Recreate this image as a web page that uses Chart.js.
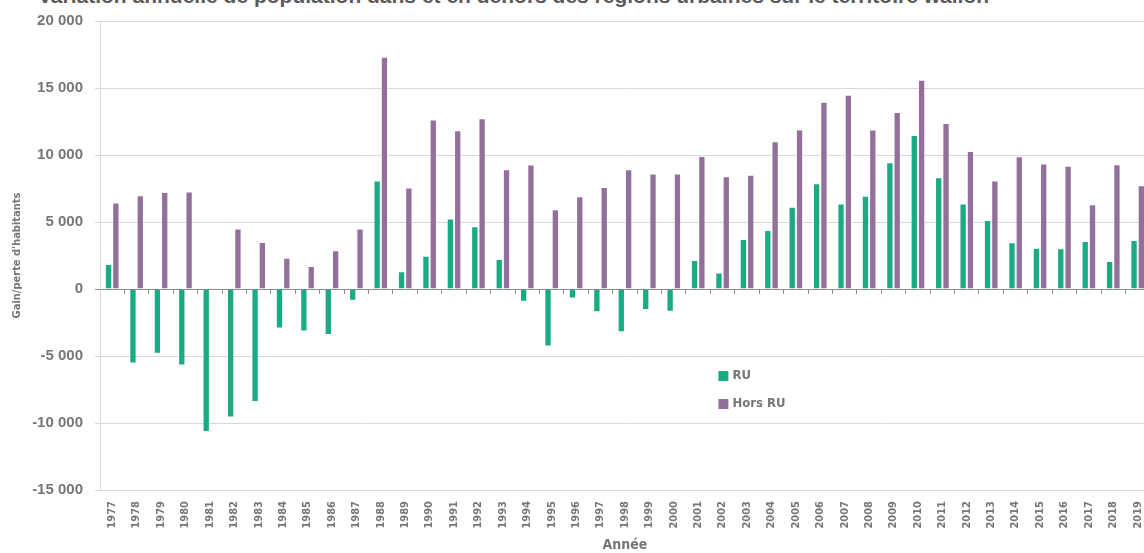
<!DOCTYPE html>
<html>
<head>
<meta charset="utf-8">
<script src="https://cdn.jsdelivr.net/npm/chart.js@4/dist/chart.umd.min.js"></script>
<style>
  html, body { margin: 0; padding: 0; background: #fff; overflow: hidden; width: 1144px; height: 553px; }
  #title {
    position: absolute; left: 38px; top: -16px; white-space: nowrap;
    font: bold 21px "Liberation Sans", Arial, sans-serif; color: #5a5a5a;
  }
  #wrap { position: absolute; left: 0; top: 0; }
</style>
</head>
<body>
<div id="title">Variation annuelle de population dans et en dehors des régions urbaines sur le territoire wallon</div>
<div id="wrap"><canvas id="chart" width="1162" height="556"></canvas></div>
<script>
const years = ["1977", "1978", "1979", "1980", "1981", "1982", "1983", "1984", "1985", "1986",
  "1987", "1988", "1989", "1990", "1991", "1992", "1993", "1994", "1995", "1996",
  "1997", "1998", "1999", "2000", "2001", "2002", "2003", "2004", "2005", "2006",
  "2007", "2008", "2009", "2010", "2011", "2012", "2013", "2014", "2015", "2016",
  "2017", "2018", "2019"];

// gain/perte d'habitants dans les régions urbaines
const ru = [1860, -5560, -4840, -5710, -10680, -9590, -8440, -2950, -3180, -3430,
  -870, 8100, 1320, 2480, 5260, 4690, 2235, -945, -4300, -700,
  -1740, -3230, -1565, -1690, 2160, 1240, 3725, 4400, 6130, 7900,
  6380, 6950, 9460, 11500, 8340, 6380, 5140, 3480, 3080, 3050,
  3580, 2090, 3650];

// hors régions urbaines
const horsRu = [6460, 7000, 7230, 7280, -100, 4520, 3500, 2330, 1710, 2900,
  4520, 17340, 7570, 12640, 11850, 12740, 8940, 9290, 5960, 6930,
  7620, 8940, 8620, 8620, 9930, 8420, 8520, 11030, 11900, 13980,
  14500, 11900, 13210, 15620, 12390, 10300, 8100, 9910, 9360, 9190,
  6330, 9310, 7750];

const seriesNames = ["RU", "Hors RU"];
const yTicks = [-15000, -10000, -5000, 0, 5000, 10000, 15000, 20000];

const textGrey = "#767676";
const cond = "'DejaVu Sans Condensed', 'DejaVu Sans', sans-serif";

function fmt(v) {
  return String(v).replace(/\B(?=(\d{3})+(?!\d))/g, " ");
}

// legend drawn inside the plot area, stacked
const innerLegend = {
  id: "innerLegend",
  afterDraw(chart) {
    const c = chart.ctx, a = chart.chartArea;
    const x = a.left + (a.right - a.left) * 0.589;
    let y = a.top + (a.bottom - a.top) * 0.757;
    c.save();
    c.font = "bold 13px " + cond;
    c.textBaseline = "middle";
    chart.data.datasets.forEach(ds => {
      c.fillStyle = ds.backgroundColor;
      c.fillRect(x, y - 5, 10, 10);
      c.fillStyle = textGrey;
      c.fillText(ds.label, x + 14, y);
      y += 28;
    });
    c.restore();
  }
};

new Chart(document.getElementById("chart").getContext("2d"), {
  type: "bar",
  data: {
    labels: years,
    datasets: [
      {
        label: seriesNames[0],
        data: ru,
        backgroundColor: "#1aab85",
        borderColor: "rgba(255,255,255,0.55)",
        borderWidth: 1,
        categoryPercentage: 0.6,
        barPercentage: 1
      },
      {
        label: seriesNames[1],
        data: horsRu,
        backgroundColor: "#93709b",
        borderColor: "rgba(255,255,255,0.55)",
        borderWidth: 1,
        categoryPercentage: 0.6,
        barPercentage: 1
      }
    ]
  },
  options: {
    responsive: false,
    animation: false,
    layout: { padding: { left: 4, right: 8, top: 20, bottom: 0 } },
    plugins: {
      legend: { display: false },
      tooltip: { enabled: false },
      title: { display: false }
    },
    scales: {
      x: {
        afterFit: s => { s.height = 66; },
        grid: { display: false, drawTicks: false },
        border: { display: false },
        ticks: {
          color: textGrey,
          font: { family: cond, size: 11, weight: "bold" },
          minRotation: 90,
          maxRotation: 90,
          autoSkip: false,
          padding: 11
        },
        title: {
          display: true,
          text: "Année",
          color: textGrey,
          font: { family: cond, size: 14, weight: "bold" },
          padding: { top: 8, bottom: 2 }
        }
      },
      x0: {
        type: "category",
        position: { y: 0 },
        grid: { offset: true, drawOnChartArea: false, tickLength: 4, color: "#8c8c8c" },
        border: { display: true, color: "#8c8c8c" },
        ticks: { display: false }
      },
      y: {
        min: yTicks[0],
        max: yTicks[yTicks.length - 1],
        afterBuildTicks: scale => { scale.ticks = yTicks.map(v => ({ value: v })); },
        afterFit: s => { s.width = 96; },
        grid: {
          color: ctx => (ctx.tick && ctx.tick.value === 0 ? "#8c8c8c" : "#d9d9d9"),
          tickLength: 5
        },
        border: { color: "#d9d9d9" },
        ticks: {
          color: textGrey,
          font: { family: "'Liberation Sans', Arial, sans-serif", size: 15, weight: "bold" },
          padding: 12,
          callback: v => fmt(v)
        },
        title: {
          display: true,
          text: "Gain/perte d'habitants",
          color: textGrey,
          font: { family: cond, size: 11, weight: "bold" },
          padding: { top: 6.5, bottom: 2 }
        }
      }
    }
  },
  plugins: [innerLegend]
});
</script>
</body>
</html>
